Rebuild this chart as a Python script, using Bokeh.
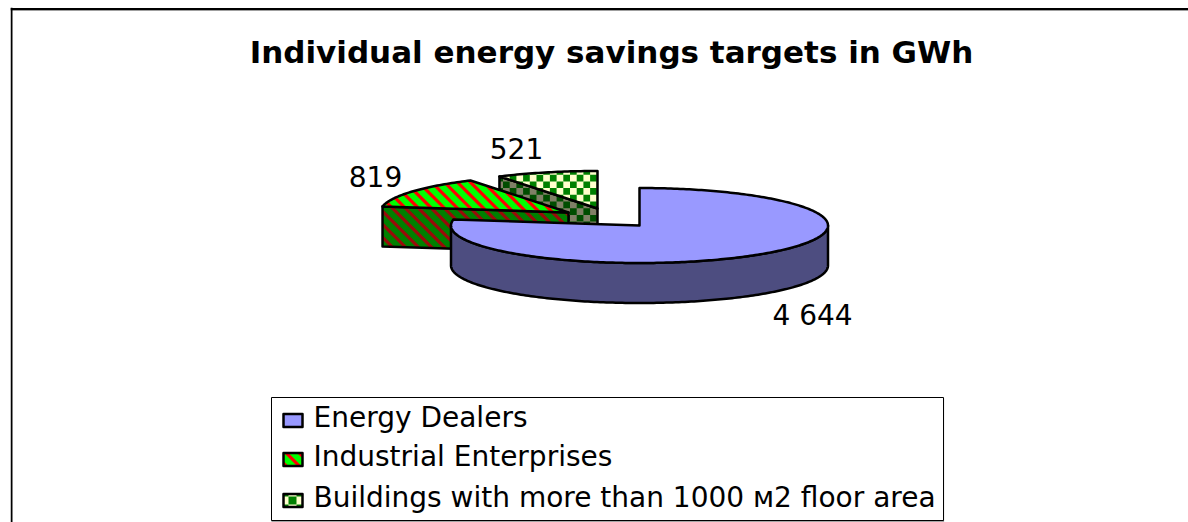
import numpy as np
from bokeh.plotting import figure
from bokeh.embed import file_html
from bokeh.resources import INLINE
from bokeh.core.properties import value
from bokeh.models import Span

title = "Individual energy savings targets in GWh"
categories = ["Energy Dealers", "Industrial Enterprises", "Buildings with more than 1000 м2 floor area"]
values = [4644, 819, 521]
labels = ["4 644", "819", "521"]

W, H = 1188, 522
FONT = "DejaVu Sans"
RX, RY, DEPTH = 188.5, 37.5, 40
centers = [(639, 225), (568, 212), (597, 208)]
label_pos = [(812, 315), (375, 176), (516, 148)]
legend_box = (271, 943, 397, 520)
legend_rows = [420, 459, 500]
legend_text_x = 313
swatch_x = (283, 302)
swatch_half = 6.5

p = figure(width=W, height=H, x_range=(10, W), y_range=(H, 7), output_backend="svg",
           toolbar_location=None, min_border=0, min_border_left=10, min_border_top=7,
           outline_line_color=None, background_fill_color="white", border_fill_color="white")
p.axis.visible = False
p.grid.visible = False

styles = [
    dict(top="#9999FF", side="#4D4D80"),
    dict(top="#00FF00", side="#008000", h_top="#FF0000", h_side="#9A0A0A", pat="stripe"),
    dict(top="#FFFFCC", side="#808066", h_top="#008000", h_side="#004D00", pat="check"),
]

fractions = np.array(values) / sum(values)
ends = np.cumsum(fractions) * 2 * np.pi
starts = np.concatenate([[0], ends[:-1]])


def rim(cx, cy, a0, a1):
    t = np.linspace(a0, a1, max(int((a1 - a0) * 60), 2))
    return cx + RX * np.sin(t), cy - RY * np.cos(t)


def clip(poly, nx, ny, d):
    """Keep the part of poly where nx*x + ny*y <= d (Sutherland-Hodgman)."""
    out = []
    for k in range(len(poly)):
        a, b = poly[k], poly[(k + 1) % len(poly)]
        fa = nx * a[0] + ny * a[1] - d
        fb = nx * b[0] + ny * b[1] - d
        if fa <= 0:
            out.append(a)
        if (fa < 0 < fb) or (fb < 0 < fa):
            s = fa / (fa - fb)
            out.append((a[0] + s * (b[0] - a[0]), a[1] + s * (b[1] - a[1])))
    return out


def stripes(xs, ys, color, period, width):
    poly = list(zip(xs, ys))
    u = np.array(xs) - np.array(ys)
    for k in np.arange(np.floor(u.min() / period), np.ceil(u.max() / period) + 1):
        q = clip(clip(poly, 1, -1, k * period + width), -1, 1, -k * period)
        if len(q) > 2:
            p.patch([a[0] for a in q], [a[1] for a in q], fill_color=color, line_color=None)


def checks(xs, ys, color, size):
    poly = list(zip(xs, ys))
    for i in np.arange(np.floor(min(xs) / size), np.ceil(max(xs) / size) + 1):
        for j in np.arange(np.floor(min(ys) / size), np.ceil(max(ys) / size) + 1):
            if (i + j) % 2:
                continue
            q = clip(clip(clip(clip(poly, 1, 0, (i + 1) * size), -1, 0, -i * size),
                          0, 1, (j + 1) * size), 0, -1, -j * size)
            if len(q) > 2:
                p.patch([a[0] for a in q], [a[1] for a in q], fill_color=color, line_color=None)


def shape(xs, ys, fill, pat=None, pat_color=None, small=False):
    p.patch(xs, ys, fill_color=fill, line_color=None)
    if pat == "stripe":
        stripes(xs, ys, pat_color, 13, 4.5)
    elif pat == "check":
        checks(xs, ys, pat_color, 6.7 if not small else 8)
    p.patch(xs, ys, fill_color=None, line_color="black", line_width=2.5, line_join="round")


for i in [2, 1, 0]:
    cx, cy = centers[i]
    st = styles[i]
    rx, ry = rim(cx, cy, starts[i], ends[i])
    if i == 0:
        wx, wy = rim(cx, cy, np.pi / 2, 3 * np.pi / 2)
        xs = np.concatenate([wx, wx[::-1]])
        ys = np.concatenate([wy, wy[::-1] + DEPTH])
    else:
        xs = np.array([rx[0], cx, cx, rx[0]])
        ys = np.array([ry[0], cy, cy + DEPTH, ry[0] + DEPTH])
    shape(xs, ys, st["side"], st.get("pat"), st.get("h_side"))
    shape(np.concatenate([[cx], rx]), np.concatenate([[cy], ry]), st["top"], st.get("pat"), st.get("h_top"))

for txt, (x, y) in zip(labels, label_pos):
    p.text([x], [y], text=[txt], text_font=value(FONT), text_font_size="28px", text_align="center",
           text_baseline="middle", text_color="black")

p.text([611], [51], text=[title], text_font=value(FONT), text_font_style="bold", text_font_size="31px",
       text_align="center", text_baseline="middle", text_color="black")

p.add_layout(Span(location=9.8, dimension="width", line_color="#888888", line_width=1))
p.add_layout(Span(location=8.5, dimension="width", line_color="black", line_width=2))
p.add_layout(Span(location=11, dimension="height", line_color="black", line_width=2))

x0, x1, y0, y1 = legend_box
p.quad(left=[x0], right=[x1 + 0.6], top=[y0 + 1], bottom=[y1 + 1.2], fill_color="#888888", line_color=None)
p.quad(left=[x0], right=[x1], top=[y0], bottom=[y1], fill_color="white", line_color="black", line_width=1)
for i, (c, ry_) in enumerate(zip(categories, legend_rows)):
    st = styles[i]
    a, b = swatch_x
    shape(np.array([a, b, b, a], float), np.array([ry_ - swatch_half, ry_ - swatch_half, ry_ + swatch_half, ry_ + swatch_half]),
          st["top"], st.get("pat"), st.get("h_top"), small=True)
    p.text([legend_text_x], [ry_ - 3.5], text=[c], text_font=value(FONT), text_font_size="28px", text_align="left",
           text_baseline="middle", text_color="black")

open("out.html", "w").write(file_html(p, INLINE))
